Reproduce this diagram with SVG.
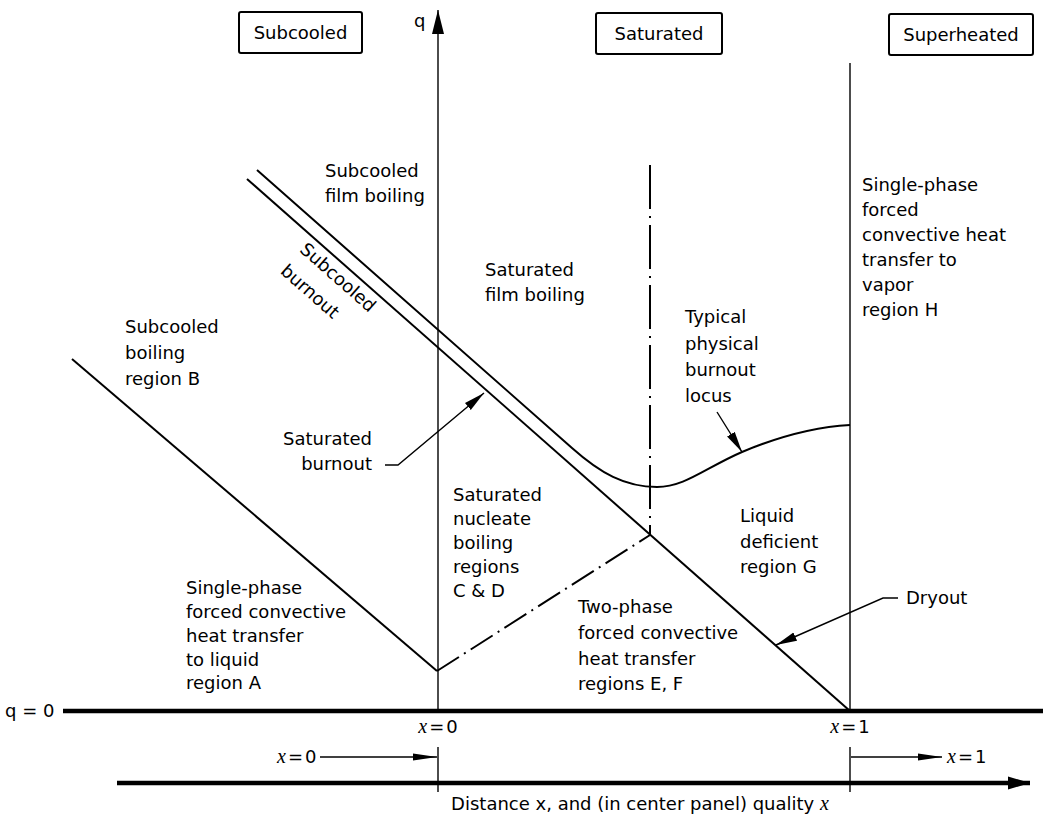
<svg xmlns="http://www.w3.org/2000/svg" width="1045" height="821" viewBox="0 0 1045 821">
<style>
.t{font-family:"DejaVu Sans","Liberation Sans",sans-serif;font-size:18px;fill:#000}
.xi{font-family:"Liberation Serif",serif;font-style:italic;font-size:20px}
.ln{stroke:#000;fill:none;stroke-width:2}
.thin{stroke:#000;fill:none;stroke-width:1.4}
.thick{stroke:#000;fill:none;stroke-width:4.5}
.box{fill:#fff;stroke:#000;stroke-width:2}
</style>
<defs>
<marker id="ah" markerUnits="userSpaceOnUse" markerWidth="22" markerHeight="10" refX="21" refY="5" orient="auto"><path d="M0,0.5 L21,5 L0,9.5 z" fill="#000"/></marker>
<marker id="ahs" markerUnits="userSpaceOnUse" markerWidth="24" markerHeight="8" refX="24" refY="4" orient="auto"><path d="M0,0.5 L24,4 L0,7.5 z" fill="#000"/></marker>
<marker id="ahq" markerUnits="userSpaceOnUse" markerWidth="24" markerHeight="12" refX="24" refY="6" orient="auto"><path d="M0,0 L24,6 L0,12 z" fill="#000"/></marker>
<marker id="ahx" markerUnits="userSpaceOnUse" markerWidth="22" markerHeight="14" refX="22" refY="7" orient="auto"><path d="M0,0.5 L22,7 L0,13.5 z" fill="#000"/></marker>
</defs>

<g id="axes">
<line class="thick" x1="63" y1="711" x2="1043" y2="711"/>
<line class="thick" x1="117" y1="783" x2="1030" y2="783" marker-end="url(#ahx)"/>
<line class="thin" x1="438" y1="711" x2="438" y2="10" marker-end="url(#ahq)"/>
<line class="thin" x1="850" y1="63" x2="850" y2="711"/>
<line class="thin" x1="438" y1="747" x2="438" y2="792"/>
<line class="thin" x1="850" y1="747" x2="850" y2="792"/>
<text class="t" x="414" y="27">q</text>
<text class="t" x="5" y="717">q = 0</text>
</g>

<g id="box-subcooled">
<rect class="box" x="239" y="12" width="123" height="41" rx="2"/>
<text class="t" x="300.5" y="39" text-anchor="middle">Subcooled</text>
</g>
<g id="box-saturated">
<rect class="box" x="596" y="13" width="126" height="41" rx="2"/>
<text class="t" x="659" y="40" text-anchor="middle">Saturated</text>
</g>
<g id="box-superheated">
<rect class="box" x="889" y="14" width="144" height="41" rx="2"/>
<text class="t" x="961" y="41" text-anchor="middle">Superheated</text>
</g>

<g id="connectors">
<line class="ln" x1="72" y1="359" x2="437" y2="671"/>
<line class="ln" x1="247" y1="179" x2="850" y2="711"/>
<path class="ln" d="M257,170 L572,448 C600,473 625,487 657,487 C685,487 705,468 742,452 C780,436 815,427 850,425"/>
<line class="ln" x1="437" y1="671" x2="650" y2="535" stroke-dasharray="26 6 2 6"/>
<line class="ln" x1="650" y1="165" x2="650" y2="535" stroke-dasharray="44 7 2 7"/>
<polyline class="thin" points="385,465 398,465 484,393" marker-end="url(#ah)"/>
<line class="thin" x1="717" y1="412" x2="742" y2="452" marker-end="url(#ah)"/>
<polyline class="thin" points="898,598 883,598 776,645" marker-end="url(#ah)"/>
<line class="thin" x1="320" y1="757" x2="437" y2="757" marker-end="url(#ahs)"/>
<line class="thin" x1="851" y1="757" x2="942" y2="757" marker-end="url(#ahs)"/>
</g>

<g id="label-subcooled-film">
<text class="t" x="325" y="177">Subcooled</text>
<text class="t" x="325" y="202">film boiling</text>
</g>
<g id="label-subcooled-burnout">
<text class="t" x="334" y="282" text-anchor="middle" transform="rotate(41.4 334 282)">Subcooled</text>
<text class="t" x="306" y="296" text-anchor="middle" transform="rotate(41.4 306 296)">burnout</text>
</g>
<g id="label-saturated-film">
<text class="t" x="485" y="276">Saturated</text>
<text class="t" x="485" y="301">film boiling</text>
</g>
<g id="label-region-b">
<text class="t" x="125" y="333">Subcooled</text>
<text class="t" x="125" y="359">boiling</text>
<text class="t" x="125" y="385">region B</text>
</g>
<g id="label-saturated-burnout">
<text class="t" x="372" y="445" text-anchor="end">Saturated</text>
<text class="t" x="372" y="470" text-anchor="end">burnout</text>
</g>
<g id="label-typical">
<text class="t" x="685" y="323">Typical</text>
<text class="t" x="685" y="350">physical</text>
<text class="t" x="685" y="376">burnout</text>
<text class="t" x="685" y="402">locus</text>
</g>
<g id="label-region-h">
<text class="t" x="862" y="191">Single-phase</text>
<text class="t" x="862" y="216">forced</text>
<text class="t" x="862" y="241">convective heat</text>
<text class="t" x="862" y="266">transfer to</text>
<text class="t" x="862" y="291">vapor</text>
<text class="t" x="862" y="316">region H</text>
</g>
<g id="label-region-cd">
<text class="t" x="453" y="501">Saturated</text>
<text class="t" x="453" y="525">nucleate</text>
<text class="t" x="453" y="549">boiling</text>
<text class="t" x="453" y="573">regions</text>
<text class="t" x="453" y="597">C &amp; D</text>
</g>
<g id="label-region-g">
<text class="t" x="740" y="522">Liquid</text>
<text class="t" x="740" y="548">deficient</text>
<text class="t" x="740" y="573">region G</text>
</g>
<g id="label-region-ef">
<text class="t" x="578" y="613">Two-phase</text>
<text class="t" x="578" y="639">forced convective</text>
<text class="t" x="578" y="665">heat transfer</text>
<text class="t" x="578" y="690">regions E, F</text>
</g>
<g id="label-region-a">
<text class="t" x="186" y="594">Single-phase</text>
<text class="t" x="186" y="618">forced convective</text>
<text class="t" x="186" y="642">heat transfer</text>
<text class="t" x="186" y="666">to liquid</text>
<text class="t" x="186" y="689">region A</text>
</g>
<g id="label-dryout">
<text class="t" x="906" y="604">Dryout</text>
</g>
<g id="axis-labels">
<text class="t" x="438" y="733" text-anchor="middle"><tspan class="xi">x</tspan><tspan dx="2">=</tspan><tspan dx="2">0</tspan></text>
<text class="t" x="850" y="733" text-anchor="middle"><tspan class="xi">x</tspan><tspan dx="2">=</tspan><tspan dx="2">1</tspan></text>
<text class="t" x="277" y="763"><tspan class="xi">x</tspan><tspan dx="2">=</tspan><tspan dx="2">0</tspan></text>
<text class="t" x="947" y="763"><tspan class="xi">x</tspan><tspan dx="2">=</tspan><tspan dx="2">1</tspan></text>
<text class="t" x="640" y="810" text-anchor="middle">Distance x, and (in center panel) quality <tspan class="xi">x</tspan></text>
</g>
</svg>
